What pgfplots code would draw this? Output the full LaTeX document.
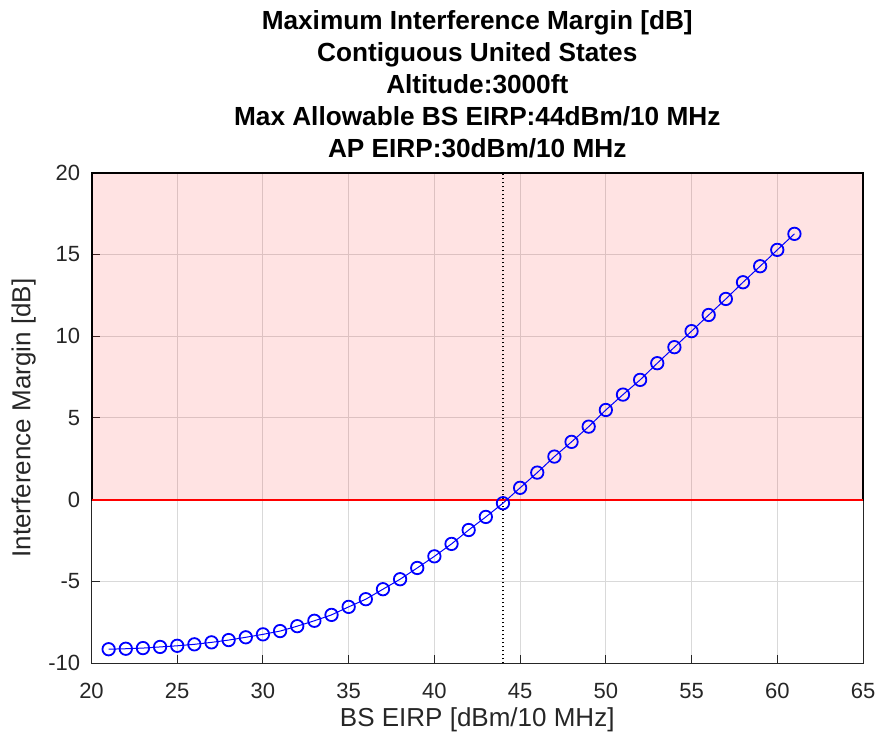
\documentclass[border=0pt]{standalone}
\usepackage{pgfplots}
\pgfplotsset{compat=1.18}
\usepackage{fontspec}
\setmainfont{Liberation Sans}
\definecolor{axgray}{rgb}{0.15,0.15,0.15}
\begin{document}
\begin{tikzpicture}
\begin{axis}[
  name=ax,
  scale only axis, width=385.75pt, height=245.3pt,
  xmin=20, xmax=65, ymin=-10, ymax=20,
  xtick={20,25,...,65}, ytick={-10,-5,...,20},
  xtick pos=bottom, ytick pos=left,
  grid=major, grid style={black!15, line width=0.5pt},
  axis line style={axgray, line width=0.5pt},
  tick style={axgray, line width=0.5pt},
  major tick length=4.3pt, tick align=inside,
  clip=false,
  /pgf/number format/assume math mode=true,
  ticklabel style={font=\fontsize{11}{13}\selectfont, text=axgray},
  xticklabel style={anchor=base, yshift=-17.5pt, inner sep=0pt},
  yticklabel style={anchor=east, xshift=-5.5pt, inner sep=0pt},
]
\addplot[draw=black, line width=1pt, fill=red, fill opacity=0.11] coordinates {(20,0) (20,20) (65,20) (65,0)} -- cycle;
\addplot[red, line width=1.1pt] coordinates {(20,0) (65,0)};
\addplot[black, line width=0.7pt, dash pattern=on 0.8pt off 1.2pt] coordinates {(44,-10) (44,20)};
\addplot[blue, line width=0.5pt, mark=o, mark size=3.1pt, mark options={line width=0.9pt, solid}] table {
x y
21 -9.14
22 -9.11
23 -9.07
24 -9.00
25 -8.93
26 -8.84
27 -8.72
28 -8.58
29 -8.41
30 -8.23
31 -8.03
32 -7.73
33 -7.40
34 -7.04
35 -6.55
36 -6.08
37 -5.47
38 -4.86
39 -4.17
40 -3.46
41 -2.70
42 -1.85
43 -1.05
44 -0.21
45 0.73
46 1.66
47 2.64
48 3.54
49 4.47
50 5.49
51 6.43
52 7.33
53 8.35
54 9.33
55 10.31
56 11.30
57 12.28
58 13.30
59 14.28
60 15.28
61 16.26
};
\end{axis}
\node[anchor=south, align=center, inner sep=0pt, font=\fontsize{13.1}{16.05}\selectfont\bfseries]
  at ([yshift=7pt]ax.north) {Maximum Interference Margin [dB]\\Contiguous United States\\Altitude:3000ft\\Max Allowable BS EIRP:44dBm/10 MHz\\AP EIRP:30dBm/10 MHz};
\node[anchor=base, inner sep=0pt, text=axgray, font=\fontsize{13}{15}\selectfont]
  at ([yshift=-31.6pt]ax.south) {BS EIRP [dBm/10 MHz]};
\node[anchor=base, rotate=90, inner sep=0pt, text=axgray, font=\fontsize{13}{15}\selectfont]
  at ([xshift=-30.5pt]ax.west) {Interference Margin [dB]};
\pgfresetboundingbox
\path[use as bounding box] ([xshift=-45.75pt,yshift=-38.35pt]ax.south west) rectangle ([xshift=9pt,yshift=86.35pt]ax.north east);
\end{tikzpicture}
\end{document}
